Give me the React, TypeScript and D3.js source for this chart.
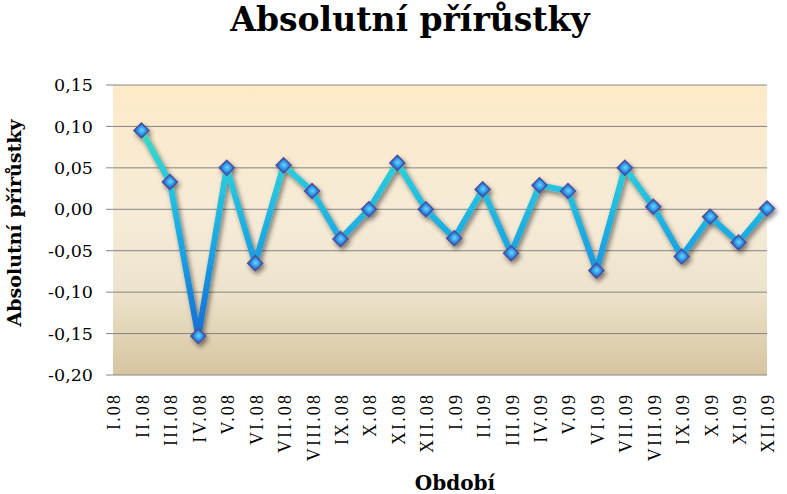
import * as React from "react"
import * as d3 from "d3"

const categories = [
  "I.08", "II.08", "III.08", "IV.08", "V.08", "VI.08", "VII.08", "VIII.08",
  "IX.08", "X.08", "XI.08", "XII.08", "I.09", "II.09", "III.09", "IV.09",
  "V.09", "VI.09", "VII.09", "VIII.09", "IX.09", "X.09", "XI.09", "XII.09",
]

// first month has no increment
const increments: (number | null)[] = [
  null, 0.095, 0.033, -0.153, 0.05, -0.065, 0.053, 0.022,
  -0.036, 0.0, 0.056, 0.0, -0.035, 0.024, -0.053, 0.029,
  0.022, -0.074, 0.05, 0.003, -0.057, -0.009, -0.04, 0.001,
]

const yTicks = [0.15, 0.1, 0.05, 0, -0.05, -0.1, -0.15, -0.2]

const title = "Absolutní přírůstky"
const yTitle = "Absolutní přírůstky"
const xTitle = "Období"

const width = 787
const height = 494

export default function App(): React.JSX.Element {
  const margin = { top: 85, right: 20, bottom: 119, left: 113 }
  const x = d3
    .scalePoint<string>()
    .domain(categories)
    .range([margin.left, width - margin.right])
  const y = d3
    .scaleLinear()
    .domain([-0.2, 0.15])
    .range([height - margin.bottom, margin.top])

  const locale = d3.formatLocale({
    decimal: ",",
    thousands: " ",
    grouping: [3],
    currency: ["", ""],
    minus: "-",
  })
  const fmt = locale.format(".2f")

  const points = categories
    .map((c, i) => ({ c, v: increments[i] }))
    .filter((d) => d.v !== null) as { c: string; v: number }[]

  const line = d3
    .line<{ c: string; v: number }>()
    .x((d) => x(d.c)!)
    .y((d) => y(d.v))

  const diamond = d3.symbol(d3.symbolSquare, 112)()!

  const plotTop = y(0.15)
  const plotBottom = y(-0.2)
  const plotLeft = x.range()[0]
  const plotRight = x.range()[1]

  const serif = "'DejaVu Serif', 'Liberation Serif', serif"

  return (
    <svg
      width={width}
      height={height}
      style={{ position: "absolute", left: 0, top: 0, background: "#fff" }}
    >
      <defs>
        <linearGradient id="plotBg" x1="0" x2="0" y1="0" y2="1">
          <stop offset="0%" stopColor="#fdeac8" />
          <stop offset="45%" stopColor="#f6ebd7" />
          <stop offset="70%" stopColor="#eee4cd" />
          <stop offset="100%" stopColor="#d6c5a0" />
        </linearGradient>
        <linearGradient
          id="lineGrad"
          gradientUnits="userSpaceOnUse"
          x1="0"
          x2="0"
          y1={plotTop}
          y2={plotBottom}
        >
          <stop offset="0%" stopColor="#48e8bc" />
          <stop offset="15%" stopColor="#3cdec4" />
          <stop offset="35%" stopColor="#26c4de" />
          <stop offset="55%" stopColor="#1ca6e2" />
          <stop offset="75%" stopColor="#1680da" />
          <stop offset="100%" stopColor="#0e5cc4" />
        </linearGradient>
        <radialGradient id="markerGrad" cx="50%" cy="45%" r="60%">
          <stop offset="0%" stopColor="#6cd4fc" />
          <stop offset="60%" stopColor="#2e9ae8" />
          <stop offset="100%" stopColor="#1a6cd0" />
        </radialGradient>
        <filter id="shadow" x="-20%" y="-20%" width="140%" height="140%">
          <feGaussianBlur in="SourceAlpha" stdDeviation="2.4" />
          <feOffset dx="2" dy="3" result="blur" />
          <feComponentTransfer>
            <feFuncA type="linear" slope="0.5" />
          </feComponentTransfer>
          <feMerge>
            <feMergeNode />
            <feMergeNode in="SourceGraphic" />
          </feMerge>
        </filter>
      </defs>

      <text
        x={410}
        y={31}
        textAnchor="middle"
        fontFamily={serif}
        fontWeight="bold"
        fontSize={33}
        fill="#000"
      >
        {title}
      </text>

      <rect
        x={plotLeft}
        y={plotTop}
        width={plotRight - plotLeft}
        height={plotBottom - plotTop}
        fill="url(#plotBg)"
      />

      <g className="grid">
        {yTicks.map((t) => (
          <g key={t}>
            <line
              x1={plotLeft - 7}
              x2={plotRight}
              y1={y(t)}
              y2={y(t)}
              stroke="#858585"
              strokeWidth={1}
            />
            <text
              x={93}
              y={y(t)}
              dy="0.35em"
              textAnchor="end"
              fontFamily={serif}
              fontSize={17.5}
              fill="#000"
            >
              {fmt(t)}
            </text>
          </g>
        ))}
      </g>

      <g className="x-labels">
        {categories.map((c) => (
          <text
            key={c}
            transform={`translate(${x(c)! + 1},393) rotate(-90)`}
            dy="0.36em"
            textAnchor="end"
            fontFamily="'Liberation Serif', serif"
            fontSize={18}
            letterSpacing={2.1}
            fill="#000"
          >
            {c}
          </text>
        ))}
      </g>

      <g filter="url(#shadow)">
        <path
          d={line(points)!}
          fill="none"
          stroke="url(#lineGrad)"
          strokeWidth={6}
          strokeLinejoin="round"
        />
        {points.map((d) => (
          <path
            key={d.c}
            d={diamond}
            transform={`translate(${x(d.c)},${y(d.v)}) rotate(45)`}
            fill="url(#markerGrad)"
            stroke="#4f4f9c"
            strokeWidth={1.5}
          />
        ))}
      </g>

      <text
        transform={`translate(21,${(plotTop + plotBottom) / 2 - 7}) rotate(-90)`}
        textAnchor="middle"
        fontFamily={serif}
        fontWeight="bold"
        fontSize={19}
        fill="#000"
      >
        {yTitle}
      </text>

      <text
        x={455}
        y={490}
        textAnchor="middle"
        fontFamily={serif}
        fontWeight="bold"
        fontSize={20}
        fill="#000"
      >
        {xTitle}
      </text>
    </svg>
  )
}
